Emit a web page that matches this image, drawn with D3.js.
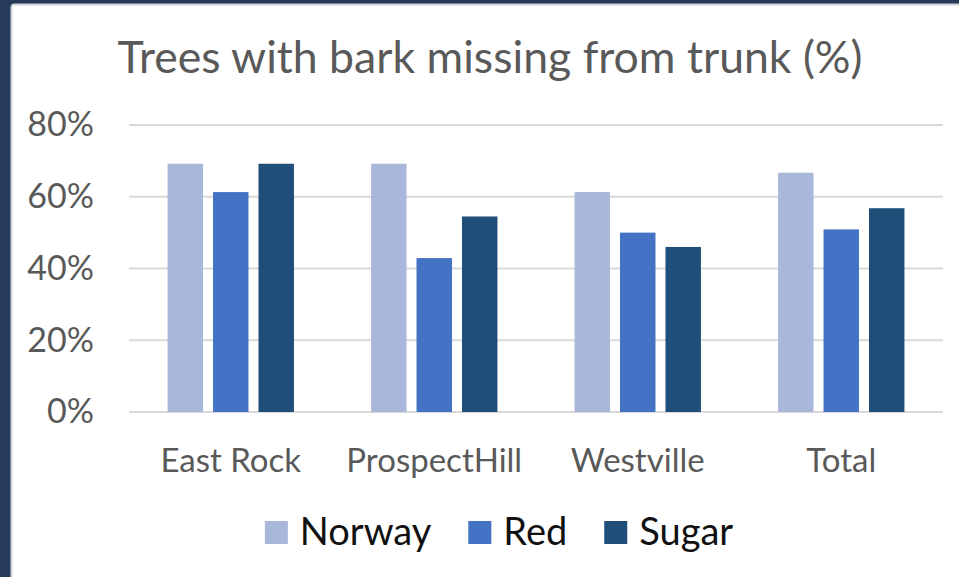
<!DOCTYPE html>
<html>
<head>
<meta charset="utf-8">
<script src="https://cdn.jsdelivr.net/npm/d3@7"></script>
<style>
  html, body { margin: 0; padding: 0; background: #263b59; }
  svg { display: block; }
  text { font-family: Lato, "Open Sans", sans-serif; }
</style>
</head>
<body>
<svg id="chart" width="959" height="577"></svg>
<script>
// Share of trees with bark missing from the trunk, by neighbourhood and maple species
const categories = ["East Rock", "ProspectHill", "Westville", "Total"];
const series = ["Norway", "Red", "Sugar"];
const norwayValues = [0.692, 0.692, 0.613, 0.667];
const redValues    = [0.613, 0.429, 0.500, 0.509];
const sugarValues  = [0.692, 0.545, 0.460, 0.568];
const yTicks = [0, 0.2, 0.4, 0.6, 0.8];
const titleText = "Trees with bark missing from trunk (%)";

const seriesValues = { Norway: norwayValues, Red: redValues, Sugar: sugarValues };
const colors = { Norway: "#a9b7db", Red: "#4472c4", Sugar: "#1f4e79" };

const W = 959, H = 577;
const svg = d3.select("#chart");

// white chart panel sitting on the dark slide background
svg.append("rect")
  .attr("x", 11.5).attr("y", 4.5)
  .attr("width", W).attr("height", H)
  .attr("rx", 3)
  .attr("fill", "#ffffff")
  .attr("stroke", "#d0d3d8")
  .attr("stroke-width", 2);

const plot = { left: 129, right: 943, top: 125, bottom: 412 };

const y = d3.scaleLinear().domain([0, 0.8]).range([plot.bottom, plot.top]);
const x0 = d3.scaleBand().domain(categories).range([plot.left, plot.right]).paddingInner(0);
const half = x0.bandwidth() * 0.3105;
const x1 = d3.scaleBand().domain(series)
  .range([x0.bandwidth() / 2 - half, x0.bandwidth() / 2 + half])
  .paddingInner(0.22).paddingOuter(0);

// horizontal gridlines
svg.append("g")
  .selectAll("line")
  .data(yTicks)
  .join("line")
  .attr("x1", plot.left).attr("x2", plot.right)
  .attr("y1", d => y(d)).attr("y2", d => y(d))
  .attr("stroke", "#d9d9d9")
  .attr("stroke-width", 2);

// y axis labels
const yAxis = d3.axisLeft(y).tickValues(yTicks).tickFormat(d3.format(".0%")).tickSize(0).tickPadding(0);
const yAxisG = svg.append("g")
  .attr("transform", `translate(${plot.left - 35},0)`)
  .call(yAxis);
yAxisG.select(".domain").remove();
yAxisG.selectAll("text")
  .attr("fill", "#595959")
  .style("font-size", "34px")
  .style("font-family", "Lato, 'Open Sans', sans-serif");

// bars
const groups = svg.append("g")
  .selectAll("g")
  .data(categories)
  .join("g")
  .attr("transform", d => `translate(${x0(d)},0)`);

groups.selectAll("rect")
  .data((d, i) => series.map(s => ({ key: s, value: seriesValues[s][i] })))
  .join("rect")
  .attr("x", d => x1(d.key))
  .attr("width", x1.bandwidth())
  .attr("y", d => y(d.value))
  .attr("height", d => y(0) - y(d.value))
  .attr("fill", d => colors[d.key]);

// category axis
const xAxis = d3.axisBottom(x0).tickSize(0).tickPadding(0);
const xAxisG = svg.append("g")
  .attr("transform", `translate(0,${plot.bottom + 48})`)
  .call(xAxis);
xAxisG.select(".domain").remove();
xAxisG.selectAll("text")
  .attr("fill", "#595959")
  .attr("dy", "0.35em")
  .style("font-size", "33px")
  .style("font-family", "Lato, 'Open Sans', sans-serif");

// title, sized to span its full width
const title = svg.append("text")
  .attr("x", 490)
  .attr("y", 73)
  .attr("text-anchor", "middle")
  .attr("fill", "#595959")
  .style("font-size", "44px")
  .text(titleText);
const tw = title.node().getComputedTextLength();
title.style("font-size", (44 * 745 / tw).toFixed(2) + "px");

// legend
const legend = svg.append("g");
const legendItems = legend.selectAll("g")
  .data(series)
  .join("g");
legendItems.append("rect")
  .attr("width", 23).attr("height", 23)
  .attr("y", 521)
  .attr("fill", d => colors[d]);
legendItems.append("text")
  .attr("x", 35)
  .attr("y", 545)
  .attr("fill", "#111111")
  .style("font-size", "38px")
  .text(d => d);
let cursor = 0;
legendItems.each(function () {
  const g = d3.select(this);
  g.attr("transform", `translate(${cursor},0)`);
  const w = 35 + g.select("text").node().getComputedTextLength();
  cursor += w + 37;
});
const legendWidth = cursor - 37;
legend.attr("transform", `translate(${499 - legendWidth / 2},0)`);
</script>
</body>
</html>
